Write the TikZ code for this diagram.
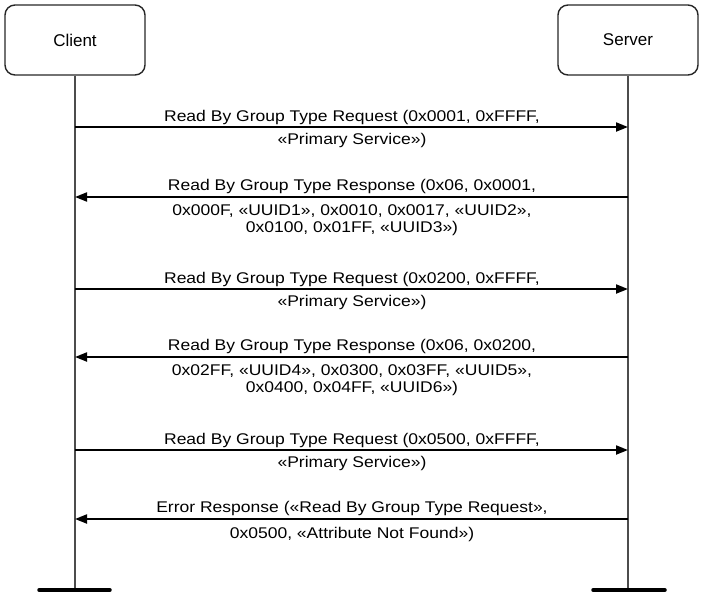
\documentclass[tikz,border=0pt]{standalone}
\usepackage{fontspec}
\setmainfont{Liberation Sans}
\newfontfamily\msgfont[FakeStretch=1.13]{Liberation Sans}
\usetikzlibrary{arrows.meta}
\begin{document}
\begin{tikzpicture}[x=1pt,y=-1pt,
  actor/.style={draw=black!85, line width=1.4pt, rounded corners=10pt,
    minimum width=140pt, minimum height=70pt, inner sep=0pt,
    font=\fontsize{17}{20}\selectfont},
  lifeline/.style={draw=black!70, line width=2pt},
  foot/.style={line width=3.5pt, line cap=round},
  msg/.style={line width=2pt, -{Triangle[length=12pt,width=9pt]}},
  msgtext/.style={font=\msgfont\fontsize{15.5}{17}\selectfont, inner sep=0pt, anchor=base}
]
\useasboundingbox (0,0) rectangle (702,595);

% participants
\node[actor] (client) at (75,40) {\raisebox{-2pt}{Client}};
\node[actor] (server) at (628,40) {\raisebox{-2pt}{Server}};

% lifeline ends and feet
\coordinate (cend) at (75,590);
\coordinate (send) at (628,590);
\coordinate (cfl) at (39,590);
\coordinate (cfr) at (110,590);
\coordinate (sfl) at (593,590);
\coordinate (sfr) at (665,590);

\draw[lifeline] (client.south) -- (cend);
\draw[lifeline] (server.south) -- (send);
\draw[foot] (cfl) -- (cfr);
\draw[foot] (sfl) -- (sfr);

% message anchor points on the lifelines
\foreach \i/\y in {1/127,2/197,3/289,4/357,5/450,6/519}{
  \coordinate (c\i) at (75,\y);
  \coordinate (s\i) at (628,\y);
}

% messages
\draw[msg] (c1) -- (s1);
\draw[msg] (s2) -- (c2);
\draw[msg] (c3) -- (s3);
\draw[msg] (s4) -- (c4);
\draw[msg] (c5) -- (s5);
\draw[msg] (s6) -- (c6);

% message labels
\node[msgtext] (m1a) at (352,121.5) {Read By Group Type Request (0x0001, 0xFFFF,};
\node[msgtext] (m1b) at (352,144.5) {«Primary Service»)};

\node[msgtext] (m2a) at (352,190.5) {Read By Group Type Response (0x06, 0x0001,};
\node[msgtext] (m2b) at (352,215) {0x000F, «UUID1», 0x0010, 0x0017, «UUID2»,};
\node[msgtext] (m2c) at (352,232) {0x0100, 0x01FF, «UUID3»)};

\node[msgtext] (m3a) at (352,283.5) {Read By Group Type Request (0x0200, 0xFFFF,};
\node[msgtext] (m3b) at (352,306.5) {«Primary Service»)};

\node[msgtext] (m4a) at (352,350.5) {Read By Group Type Response (0x06, 0x0200,};
\node[msgtext] (m4b) at (352,375) {0x02FF, «UUID4», 0x0300, 0x03FF, «UUID5»,};
\node[msgtext] (m4c) at (352,392) {0x0400, 0x04FF, «UUID6»)};

\node[msgtext] (m5a) at (352,444.5) {Read By Group Type Request (0x0500, 0xFFFF,};
\node[msgtext] (m5b) at (352,467.5) {«Primary Service»)};

\node[msgtext] (m6a) at (352,512.5) {Error Response («Read By Group Type Request»,};
\node[msgtext] (m6b) at (352,538) {0x0500, «Attribute Not Found»)};
\end{tikzpicture}
\end{document}
